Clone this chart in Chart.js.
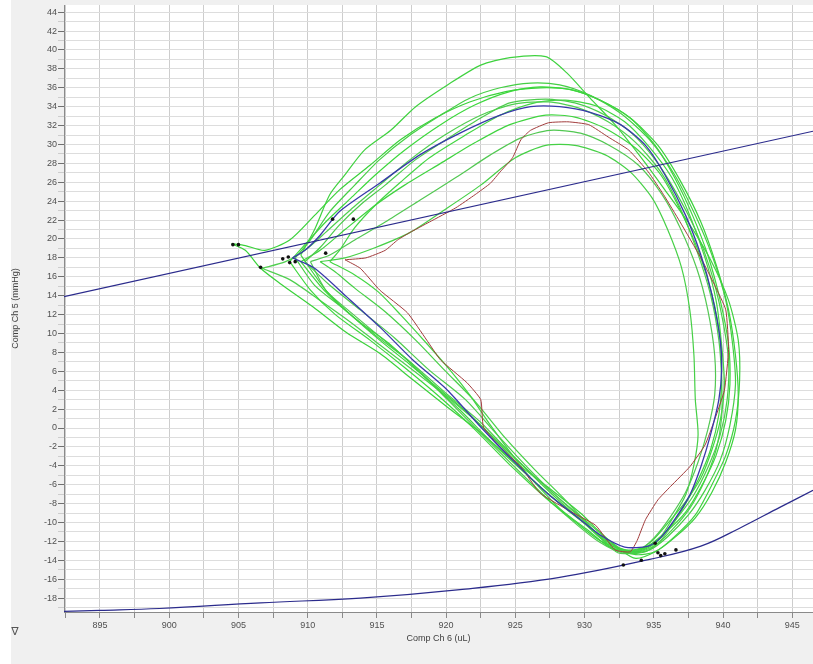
<!DOCTYPE html>
<html>
<head>
<meta charset="utf-8">
<script src="https://cdn.jsdelivr.net/npm/chart.js@4.4.1/dist/chart.umd.min.js"></script>
<style>
  html, body { margin: 0; padding: 0; background: #ffffff; }
  #wrap { width: 813px; height: 664px; }
</style>
</head>
<body>
<div id="wrap"><canvas id="pv" width="813" height="664"></canvas></div>
<script>
// Axis titles and tick settings
const xTitle = 'Comp Ch 6 (uL)';
const yTitle = 'Comp Ch 5 (mmHg)';
const xLabelStep = 5;      // labelled volume ticks (uL)
const yLabelStep = 2;      // labelled pressure ticks (mmHg)

// Pressure-volume loops: [volume uL, pressure mmHg]
const loopG1 = [[909.5,18.3],[910.5,21.0],[911.6,24.7],[912.7,26.8],[914.1,29.4],[916.0,31.5],[917.8,34.0],[920.1,36.3],[922.5,38.4],[924.6,39.2],[927.2,39.3],[928.7,37.6],[930.4,34.9],[932.2,32.1],[934.2,28.4],[935.8,25.2],[937.6,21.5],[939.1,17.8],[940.4,13.5],[941.1,9.3],[941.2,5.1],[940.9,0.8],[940.2,-2.9],[939.2,-6.0],[938.0,-9.2],[936.5,-11.5],[935.1,-13.1],[933.7,-13.4],[931.8,-12.6],[930.4,-11.0],[928.2,-8.5],[926.1,-5.3],[923.9,-1.8],[921.7,1.4],[919.6,4.0],[917.4,6.7],[915.2,9.3],[913.1,12.0],[911.3,14.6],[909.5,18.3]];
const loopG2 = [[909.1,18.0],[910.2,19.9],[911.6,22.9],[913.4,25.7],[915.2,28.4],[917.4,31.0],[919.6,33.1],[921.7,34.9],[923.9,36.0],[926.1,36.5],[928.2,36.3],[930.4,35.2],[932.6,33.3],[934.7,30.5],[936.5,26.8],[938.0,22.5],[939.2,18.3],[940.2,13.5],[940.7,8.8],[940.9,4.6],[940.5,0.3],[939.8,-3.4],[938.7,-6.6],[937.5,-9.2],[936.0,-11.5],[934.7,-12.9],[933.3,-13.2],[931.5,-11.9],[929.7,-9.7],[927.5,-6.8],[925.0,-3.2],[922.5,0.6],[919.9,3.8],[917.4,7.0],[914.9,9.8],[912.7,12.5],[910.5,15.1],[909.1,18.0]];
const loopG3 = [[908.7,17.6],[909.8,19.4],[911.3,21.8],[913.1,24.3],[914.9,26.8],[917.0,29.4],[919.6,32.1],[922.1,34.2],[924.6,35.6],[926.8,36.1],[929.0,35.8],[931.1,34.7],[933.3,32.8],[935.1,29.9],[936.5,26.5],[937.8,22.5],[938.9,18.3],[939.8,13.5],[940.4,8.8],[940.5,4.6],[940.2,0.8],[939.5,-2.9],[938.5,-6.0],[937.3,-8.9],[935.8,-11.1],[934.4,-12.6],[932.9,-12.9],[931.1,-11.9],[929.3,-9.9],[927.2,-7.4],[924.6,-3.9],[922.1,-0.2],[919.6,3.2],[917.0,6.4],[914.5,9.3],[912.0,12.0],[910.2,14.6],[908.7,17.6]];
const loopG4 = [[909.8,17.6],[910.9,19.1],[912.3,21.5],[913.8,23.6],[915.6,25.7],[917.8,28.4],[920.3,30.8],[922.5,32.8],[924.6,34.4],[927.2,34.8],[929.3,34.4],[931.5,33.1],[933.4,31.2],[935.1,28.4],[936.5,25.2],[938.0,21.0],[939.1,16.7],[939.9,12.0],[940.4,7.2],[940.3,3.0],[939.8,-0.7],[938.9,-4.2],[937.8,-7.3],[936.5,-9.9],[935.5,-11.9],[934.4,-13.1],[933.1,-13.2],[931.5,-11.6],[930.0,-9.7],[927.9,-7.1],[925.7,-3.9],[923.5,-0.4],[921.4,3.0],[918.8,6.1],[916.3,9.5],[913.8,12.5],[911.6,15.1],[909.8,17.6]];
const loopG5 = [[909.5,17.6],[910.9,18.8],[912.7,21.0],[914.9,23.6],[917.0,25.7],[919.6,28.0],[922.1,30.2],[924.6,32.1],[927.2,33.1],[929.3,32.9],[931.5,31.7],[933.7,29.6],[935.5,26.8],[936.9,23.1],[938.2,18.8],[939.2,14.1],[939.8,9.3],[939.9,5.1],[939.7,1.4],[939.1,-2.3],[938.2,-5.5],[937.1,-8.5],[936.0,-10.8],[934.9,-12.4],[933.7,-13.1],[932.2,-12.5],[930.8,-11.0],[928.6,-8.5],[926.1,-5.3],[923.5,-1.8],[921.0,1.9],[918.5,5.3],[916.0,8.8],[913.4,11.6],[911.3,14.4],[909.5,17.6]];
const loopG6 = [[910.2,17.6],[911.6,18.3],[913.4,19.9],[915.6,21.8],[918.1,24.1],[920.7,26.5],[923.2,28.9],[925.4,30.7],[927.5,31.5],[929.7,31.2],[931.8,29.9],[933.9,27.8],[935.6,24.7],[936.9,21.2],[938.1,16.9],[938.9,12.5],[939.4,7.7],[939.4,3.5],[938.9,-0.2],[938.2,-3.6],[937.3,-6.8],[936.2,-9.4],[935.1,-11.5],[934.0,-12.9],[932.7,-13.2],[931.1,-12.1],[929.5,-10.3],[927.4,-7.6],[925.0,-4.2],[922.6,-0.7],[920.1,3.0],[917.6,6.7],[915.1,9.8],[912.9,12.5],[911.3,14.6],[910.2,17.6]];
const loopG7 = [[910.9,17.6],[912.7,18.0],[914.9,19.1],[917.4,20.7],[919.9,23.1],[922.5,25.7],[925.0,28.6],[927.2,29.9],[929.3,29.9],[931.5,28.9],[933.3,27.1],[934.9,24.3],[936.0,21.0],[937.0,17.0],[937.6,12.5],[937.9,7.7],[938.0,3.0],[938.2,-0.7],[937.9,-3.9],[937.3,-7.1],[936.3,-9.7],[935.5,-11.5],[934.4,-12.7],[933.1,-13.1],[931.8,-12.5],[930.5,-10.6],[928.6,-7.6],[926.4,-4.4],[924.3,-1.1],[922.1,2.8],[919.9,6.1],[917.8,9.3],[915.6,12.3],[913.4,14.8],[912.0,16.5],[910.9,17.6]];
const loopG8 = [[904.5,19.5],[905.5,19.3],[906.9,18.8],[908.7,19.9],[910.5,22.5],[912.3,25.2],[914.5,27.8],[916.7,30.5],[919.2,32.8],[921.7,34.5],[924.3,35.6],[926.8,36.0],[929.0,35.8],[931.1,34.7],[933.3,32.8],[935.3,29.9],[936.9,26.2],[938.4,21.8],[939.5,17.3],[940.4,12.5],[940.9,7.7],[941.1,3.5],[940.9,-0.2],[940.2,-3.6],[939.2,-6.8],[938.0,-9.5],[936.5,-11.6],[935.1,-13.1],[933.7,-13.8],[932.6,-12.9],[931.1,-11.0],[929.7,-9.0],[927.3,-6.2],[924.8,-3.4],[922.5,-0.5],[920.1,2.2],[917.6,5.1],[915.2,7.9],[912.8,10.1],[910.4,12.8],[908.0,15.3],[906.6,16.9],[905.5,18.8],[904.5,19.5]];
const loopG9 = [[906.7,16.9],[908.4,17.6],[909.8,18.8],[911.3,20.7],[913.1,23.1],[915.2,25.7],[917.4,28.4],[919.9,31.0],[922.5,33.1],[925.0,34.3],[927.4,34.5],[929.5,33.9],[931.7,32.4],[933.7,30.2],[935.5,27.1],[936.9,23.3],[938.1,18.8],[939.1,14.1],[939.7,9.3],[939.9,5.1],[939.9,1.1],[939.5,-2.3],[938.7,-5.5],[937.6,-8.5],[936.3,-10.8],[935.1,-12.4],[933.9,-13.1],[932.4,-13.2],[931.1,-11.5],[929.7,-9.5],[927.5,-6.6],[925.0,-3.2],[922.5,0.3],[920.3,3.0],[917.8,5.9],[915.2,8.8],[913.1,11.2],[910.9,13.5],[908.7,15.7],[906.7,16.9]];
const loopG10 = [[911.6,17.6],[912.3,18.8],[913.4,21.2],[914.9,23.6],[916.7,26.0],[918.8,28.6],[921.4,31.0],[923.9,33.1],[926.4,34.4],[928.6,34.7],[930.8,34.1],[932.9,32.4],[934.7,29.7],[936.3,26.5],[937.6,22.5],[938.7,18.0],[939.5,13.5],[939.9,8.8],[940.1,4.6],[939.8,0.8],[939.2,-2.3],[938.4,-5.3],[937.3,-7.8],[936.0,-10.1],[934.9,-11.9],[933.8,-12.9],[932.6,-12.9],[931.1,-11.6],[929.7,-9.7],[927.9,-7.6],[926.1,-5.3],[924.6,-2.5],[923.2,0.3],[921.7,3.5],[920.3,6.1],[918.5,9.1],[916.7,12.0],[915.1,14.4],[913.4,16.2],[911.6,17.6]];

// Averaged loop and a second highlighted loop
const loopMean = [[908.9,18.0],[909.8,18.8],[910.9,20.4],[912.3,22.9],[915.2,25.9],[918.1,28.9],[921.0,31.2],[923.9,33.1],[926.1,34.0],[928.2,34.0],[930.4,33.4],[932.6,32.1],[934.4,29.9],[935.8,26.8],[937.3,22.5],[938.4,18.3],[939.2,14.1],[939.8,9.3],[939.9,6.1],[939.7,3.0],[939.1,-0.7],[938.4,-4.1],[937.6,-7.1],[936.5,-9.7],[935.5,-11.6],[934.6,-12.5],[932.9,-12.6],[931.1,-11.3],[929.7,-9.7],[927.3,-6.9],[924.8,-3.4],[922.5,0.1],[920.1,4.0],[917.6,7.2],[915.2,10.7],[912.8,13.9],[910.5,16.9],[908.9,18.0]];
const loopRed = [[912.7,17.8],[914.2,18.0],[915.6,18.8],[916.5,19.9],[917.4,20.7],[918.8,21.8],[920.7,23.3],[922.1,24.7],[923.2,25.9],[923.9,27.1],[924.8,28.6],[925.4,30.5],[926.1,31.5],[927.4,32.3],[928.8,32.4],[930.3,32.1],[931.7,30.8],[933.2,29.4],[934.6,27.1],[935.7,24.7],[936.9,21.8],[938.4,18.0],[939.4,15.1],[940.2,12.5],[940.4,8.3],[940.1,4.0],[939.4,0.9],[938.7,-1.8],[937.6,-4.1],[936.2,-6.2],[935.3,-7.6],[934.4,-9.7],[933.8,-11.9],[933.3,-13.1],[932.2,-12.9],[930.8,-10.3],[929.2,-9.0],[926.8,-6.9],[925.4,-4.1],[923.9,-2.0],[922.7,0.1],[922.5,3.0],[921.5,4.8],[919.6,7.2],[918.6,9.3],[917.2,12.2],[915.2,14.6],[913.8,16.9],[912.7,17.8]];

// End-systolic pressure-volume relation (straight line) and end-diastolic relation (curve)
const espvr = [[892.4,13.9],[946.5,31.4]];
const edpvr = [[892.4,-19.4],[895.0,-19.3],[899.3,-19.1],[906.6,-18.5],[913.8,-18.0],[921.0,-17.1],[928.2,-15.8],[934.7,-13.9],[938.4,-12.5],[941.2,-10.6],[944.1,-8.4],[946.5,-6.6]];

// End-systolic and end-diastolic markers
const markers = [[911.8,22.1],[913.3,22.1],[904.6,19.4],[905.0,19.4],[908.2,17.9],[908.6,18.1],[908.7,17.5],[909.1,17.6],[906.6,17.0],[911.3,18.5],[935.1,-12.2],[932.8,-14.5],[934.1,-14.0],[935.3,-13.2],[935.5,-13.5],[935.8,-13.3],[936.6,-12.9]];

const greenLoops = [loopG1, loopG2, loopG3, loopG4, loopG5, loopG6, loopG7, loopG8, loopG9, loopG10];
const greenShades = ['#3fd23f', '#45cf45', '#3cd83c', '#4ccc4c', '#3fd43f', '#52c852', '#46d046', '#3ad23a', '#4fcf4f', '#42d642'];

const asPoints = arr => arr.map(([x, y]) => ({ x, y }));

const lineStyle = (data, color, width, tension) => ({
  data: asPoints(data),
  showLine: true,
  borderColor: color,
  backgroundColor: color,
  borderWidth: width,
  pointRadius: 0,
  pointHoverRadius: 0,
  tension: tension,
  fill: false
});

const datasets = [
  {
    data: asPoints(markers),
    showLine: false,
    pointRadius: 1.8,
    pointBackgroundColor: '#111111',
    pointBorderWidth: 0
  },
  lineStyle(espvr, '#2b2b8c', 1.2, 0),
  lineStyle(edpvr, '#2b2b8c', 1.2, 0.4),
  lineStyle(loopMean, '#3838aa', 1.3, 0.25),
  lineStyle(loopRed, '#a23c3c', 1.0, 0.15)
];
greenLoops.forEach((loop, i) => datasets.push(lineStyle(loop, greenShades[i], 1.2, 0.25)));

const tickFont = { family: 'Liberation Sans, Arial, sans-serif', size: 9 };

const panelBackground = {
  id: 'panelBackground',
  beforeDraw(chart) {
    const { ctx, chartArea: a, width, height } = chart;
    ctx.save();
    ctx.fillStyle = '#ffffff';
    ctx.fillRect(0, 0, width, height);
    ctx.fillStyle = '#f0f0f0';
    ctx.fillRect(11, 0, width - 11, height);
    ctx.fillStyle = '#ffffff';
    ctx.fillRect(a.left, a.top, a.right - a.left, a.bottom - a.top);
    ctx.restore();
  },
  afterDraw(chart) {
    const { ctx } = chart;
    ctx.save();
    ctx.fillStyle = '#555555';
    ctx.font = '11px "DejaVu Sans", sans-serif';
    ctx.textAlign = 'center';
    ctx.textBaseline = 'middle';
    ctx.fillText('\u2207', 15, 632);
    ctx.restore();
  }
};

new Chart(document.getElementById('pv'), {
  type: 'scatter',
  data: { datasets },
  plugins: [panelBackground],
  options: {
    responsive: false,
    animation: false,
    events: [],
    layout: { autoPadding: false, padding: { top: 5, right: 0, left: 0, bottom: 0 } },
    plugins: { legend: { display: false }, tooltip: { enabled: false } },
    scales: {
      x: {
        type: 'linear',
        min: 892.4,
        max: 946.5,
        afterFit: s => { s.height = 52; s.paddingLeft = 0; s.paddingRight = 0; },
        border: { display: true, color: '#8a8a8a', width: 1 },
        grid: { color: '#cdcdcd', lineWidth: 1, tickLength: 6, tickColor: '#8a8a8a' },
        ticks: {
          stepSize: 2.5,
          autoSkip: false,
          includeBounds: false,
          maxRotation: 0,
          padding: 2,
          color: '#505050',
          font: tickFont,
          callback: v => (Number.isInteger(v) && v % xLabelStep === 0 ? String(v) : '')
        },
        title: {
          display: true,
          text: xTitle,
          color: '#404040',
          font: tickFont,
          padding: { top: 0, bottom: 20 }
        }
      },
      y: {
        type: 'linear',
        min: -19.47,
        max: 44.76,
        afterFit: s => { s.width = 64; s.paddingTop = 0; s.paddingBottom = 0; },
        border: { display: true, color: '#8a8a8a', width: 1 },
        grid: {
          color: '#dddddd',
          lineWidth: 1,
          tickLength: 6,
          tickColor: c => (c.tick && c.tick.value % yLabelStep === 0 ? '#707070' : '#cccccc')
        },
        ticks: {
          stepSize: 1,
          autoSkip: false,
          includeBounds: false,
          padding: 1,
          color: '#505050',
          font: tickFont,
          callback: v => (Number.isInteger(v) && v % yLabelStep === 0 ? String(v) : '')
        },
        title: {
          display: true,
          text: yTitle,
          color: '#404040',
          font: tickFont,
          padding: { top: 10, bottom: 0 }
        }
      }
    }
  }
});
</script>
</body>
</html>
